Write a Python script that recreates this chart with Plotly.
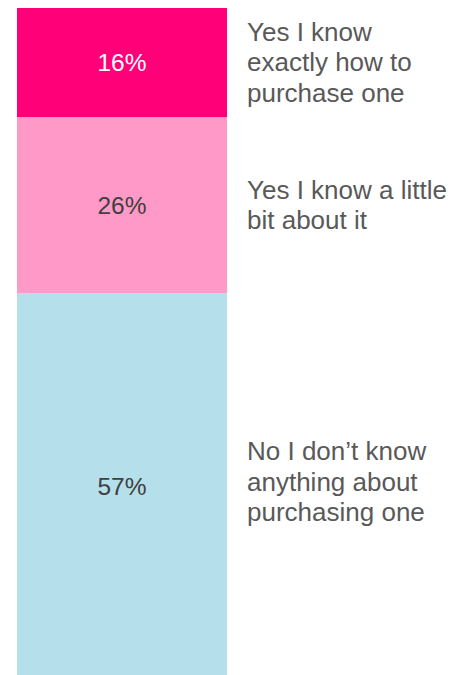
import plotly.graph_objects as go

# Survey answers, bottom to top of the stacked bar (one list entry per text line)
answers = [
    ["No I don\u2019t know", "anything about", "purchasing one"],
    ["Yes I know a little", "bit about it"],
    ["Yes I know", "exactly how to", "purchase one"],
]
shares = [57, 26, 16]
colors = ["#B4DFEB", "#FF99C7", "#FF0078"]
value_colors = ["#404040", "#404040", "#FFFFFF"]

W, H = 451, 675
left, right_px, top = 17, 227, 8
label_left = 245
line_gap = 30.5
label_nudge = [5, 0, 0]  # extra upward shift (px) of each text block
font = "Liberation Sans, Arial"

fig = go.Figure()
base = 0
for lines, val, col, tcol, nudge in zip(answers, shares, colors, value_colors, label_nudge):
    fig.add_trace(go.Bar(
        x=[0], y=[val], base=[base],
        marker=dict(color=col, line=dict(width=0)),
        width=1,
        text=[f"{val}%"], textposition="inside", insidetextanchor="middle",
        textfont=dict(family=font, size=24.5, color=tcol),
        constraintext="none",
        hoverinfo="skip", showlegend=False,
    ))
    mid = (len(lines) - 1) / 2
    for i, line in enumerate(lines):
        fig.add_annotation(
            x=(label_left - left) / (right_px - left), xref="paper",
            y=base + val / 2, yref="y", yshift=(mid - i) * line_gap + nudge,
            text=line, showarrow=False, xanchor="left", yanchor="middle", align="left",
            font=dict(family=font, size=26, color="#595959"),
        )
    base += val

fig.update_layout(
    width=W, height=H,
    margin=dict(l=left, r=W - right_px, t=top, b=0, pad=0),
    paper_bgcolor="white", plot_bgcolor="white",
    barmode="overlay", bargap=0,
    xaxis=dict(range=[-0.5, 0.5], visible=False, fixedrange=True),
    # the bottom of the bar runs just past the lower edge of the page
    yaxis=dict(range=[0.8, sum(shares)], visible=False, fixedrange=True),
)

fig.write_html("out.html")
